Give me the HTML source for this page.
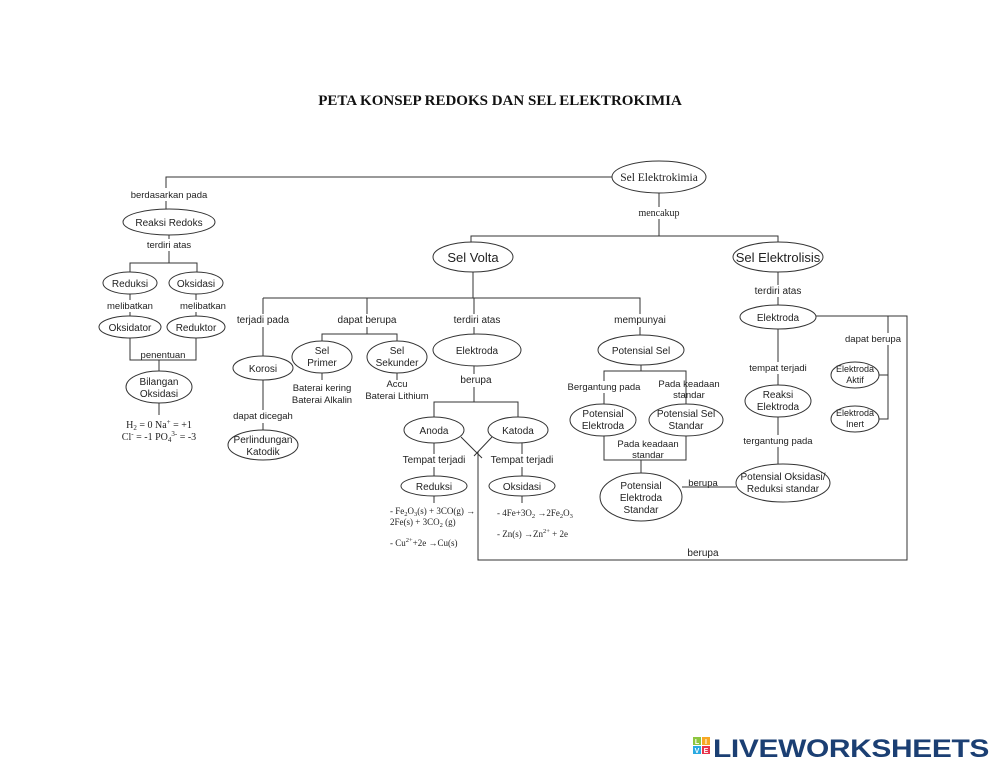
<!DOCTYPE html>
<html><head><meta charset="utf-8"><style>
html,body{margin:0;padding:0;background:#fff;}
svg{display:block;}
text{font-family:"Liberation Sans",sans-serif;font-size:10px;fill:#222;text-anchor:middle;}
.s{font-family:"Liberation Serif",serif;}
ellipse{fill:#fff;stroke:#333;stroke-width:1;}
.l{stroke:#333;stroke-width:1;fill:none;}
</style></head><body>
<svg width="1000" height="773" viewBox="0 0 1000 773" xmlns="http://www.w3.org/2000/svg">
<text x="500" y="105" class="s" style="font-size:15px;font-weight:bold;fill:#111">PETA KONSEP REDOKS DAN SEL ELEKTROKIMIA</text>

<g class="l">
<path class="l" d="M612 177 H166 V214"/>
<path class="l" d="M169 235 V263 M130 272 V263 H197 V272"/>
<path class="l" d="M130 294 V316 M196 294 V316"/>
<path class="l" d="M130 338 V360 H196 V338 M159 360 V371"/>
<path class="l" d="M159 403 V415"/>
<path class="l" d="M659 193 V236 M471 242 V236 H778 V242"/>
<path class="l" d="M473 272 V298 M263 298 H640 V335 M263 298 V356 M263 380 V430 M367 298 V334 H322 V341 M367 334 H397 V341 M474 298 V334"/>
<path class="l" d="M322 373 V380 M397 373 V380"/>
<path class="l" d="M474 366 V402 H434 V417 M474 402 H518 V417"/>
<path class="l" d="M434 443 V476 M522 443 V476 M434 496 V503 M522 496 V503"/>
<path class="l" d="M461 437 L482 458 M492 437 L474 456 M478 452 V560 H907 V316 H816"/>
<path class="l" d="M641 365 V371 H604 V404 M641 371 H686 V404"/>
<path class="l" d="M604 436 V460 H686 V436 M641 460 V473"/>
<path class="l" d="M682 487 H736"/>
<path class="l" d="M778 272 V305 M778 329 V385 M778 417 V464"/>
<path class="l" d="M888 316 V419 H879 M888 375 H879"/>
</g>

<ellipse cx="659" cy="177" rx="47" ry="16"/><text x="659" y="181" class="s" style="font-size:11.5px">Sel Elektrokimia</text>
<ellipse cx="169" cy="222" rx="46" ry="13"/><text x="169" y="226">Reaksi Redoks</text>
<ellipse cx="130" cy="283" rx="27" ry="11"/><text x="130" y="287">Reduksi</text>
<ellipse cx="196" cy="283" rx="27" ry="11"/><text x="196" y="287">Oksidasi</text>
<ellipse cx="130" cy="327" rx="31" ry="11"/><text x="130" y="331">Oksidator</text>
<ellipse cx="196" cy="327" rx="29" ry="11"/><text x="196" y="331">Reduktor</text>
<ellipse cx="159" cy="387" rx="33" ry="16"/><text x="159" y="385">Bilangan</text><text x="159" y="397">Oksidasi</text>

<ellipse cx="473" cy="257" rx="40" ry="15"/><text x="473" y="262" style="font-size:13px">Sel Volta</text>
<ellipse cx="778" cy="257" rx="45" ry="15"/><text x="778" y="262" style="font-size:13px">Sel Elektrolisis</text>

<ellipse cx="263" cy="368" rx="30" ry="12"/><text x="263" y="372">Korosi</text>
<ellipse cx="263" cy="445" rx="35" ry="15"/><text x="263" y="443">Perlindungan</text><text x="263" y="455">Katodik</text>
<ellipse cx="322" cy="357" rx="30" ry="16"/><text x="322" y="354">Sel</text><text x="322" y="366">Primer</text>
<ellipse cx="397" cy="357" rx="30" ry="16"/><text x="397" y="354">Sel</text><text x="397" y="366">Sekunder</text>
<ellipse cx="477" cy="350" rx="44" ry="16"/><text x="477" y="354">Elektroda</text>
<ellipse cx="434" cy="430" rx="30" ry="13"/><text x="434" y="434">Anoda</text>
<ellipse cx="518" cy="430" rx="30" ry="13"/><text x="518" y="434">Katoda</text>
<ellipse cx="434" cy="486" rx="33" ry="10"/><text x="434" y="490">Reduksi</text>
<ellipse cx="522" cy="486" rx="33" ry="10"/><text x="522" y="490">Oksidasi</text>
<ellipse cx="641" cy="350" rx="43" ry="15"/><text x="641" y="354">Potensial Sel</text>
<ellipse cx="603" cy="420" rx="33" ry="16"/><text x="603" y="417">Potensial</text><text x="603" y="429">Elektroda</text>
<ellipse cx="686" cy="420" rx="37" ry="16"/><text x="686" y="417">Potensial Sel</text><text x="686" y="429">Standar</text>
<ellipse cx="641" cy="497" rx="41" ry="24"/><text x="641" y="489">Potensial</text><text x="641" y="501">Elektroda</text><text x="641" y="513">Standar</text>
<ellipse cx="783" cy="483" rx="47" ry="19"/><text x="783" y="480">Potensial Oksidasi/</text><text x="783" y="492">Reduksi standar</text>
<ellipse cx="778" cy="317" rx="38" ry="12"/><text x="778" y="321">Elektroda</text>
<ellipse cx="778" cy="401" rx="33" ry="16"/><text x="778" y="398">Reaksi</text><text x="778" y="410">Elektroda</text>
<ellipse cx="855" cy="375" rx="24" ry="13"/><text x="855" y="372" style="font-size:9px">Elektroda</text><text x="855" y="383" style="font-size:9px">Aktif</text>
<ellipse cx="855" cy="419" rx="24" ry="13"/><text x="855" y="416" style="font-size:9px">Elektroda</text><text x="855" y="427" style="font-size:9px">Inert</text>

<g>
<rect x="136" y="188" width="66" height="13" fill="#fff"/><text x="169" y="198" style="font-size:9.5px">berdasarkan pada</text>
<rect x="143" y="239" width="52" height="12" fill="#fff"/><text x="169" y="248" style="font-size:9.5px">terdiri atas</text>
<rect x="108" y="300" width="46" height="12" fill="#fff"/><text x="130" y="309" style="font-size:9.5px">melibatkan</text>
<rect x="180" y="300" width="46" height="12" fill="#fff"/><text x="203" y="309" style="font-size:9.5px">melibatkan</text>
<text x="163" y="358" style="font-size:9.5px">penentuan</text>
<text x="159" y="428" class="s" style="font-size:10px">H<tspan font-size="7" dy="2">2</tspan><tspan dy="-2"> = 0   Na</tspan><tspan font-size="7" dy="-4">+</tspan><tspan dy="4"> = +1</tspan></text>
<text x="159" y="440" class="s" style="font-size:10px">Cl<tspan font-size="7" dy="-4">-</tspan><tspan dy="4"> = -1   PO</tspan><tspan font-size="7" dy="2">4</tspan><tspan font-size="7" dy="-6">3-</tspan><tspan dy="4"> = -3</tspan></text>

<rect x="634" y="207" width="50" height="12" fill="#fff"/><text x="659" y="216" class="s" style="font-size:10px">mencakup</text>
<rect x="236" y="314" width="54" height="13" fill="#fff"/><text x="263" y="323">terjadi pada</text>
<rect x="334" y="314" width="66" height="13" fill="#fff"/><text x="367" y="323">dapat berupa</text>
<rect x="450" y="314" width="50" height="13" fill="#fff"/><text x="477" y="323">terdiri atas</text>
<rect x="612" y="314" width="56" height="13" fill="#fff"/><text x="640" y="323">mempunyai</text>
<rect x="232" y="410" width="62" height="13" fill="#fff"/><text x="263" y="419" style="font-size:9.5px">dapat dicegah</text>
<text x="322" y="391" style="font-size:9.5px">Baterai kering</text><text x="322" y="403" style="font-size:9.5px">Baterai Alkalin</text>
<text x="397" y="387" style="font-size:9.5px">Accu</text><text x="397" y="399" style="font-size:9.5px">Baterai Lithium</text>
<rect x="458" y="374" width="36" height="13" fill="#fff"/><text x="476" y="383">berupa</text>
<rect x="398" y="454" width="72" height="13" fill="#fff"/><text x="434" y="463">Tempat terjadi</text>
<rect x="487" y="454" width="72" height="13" fill="#fff"/><text x="522" y="463">Tempat terjadi</text>
<text x="390" y="514" class="s" style="font-size:9px;text-anchor:start">- Fe<tspan font-size="6.5" dy="2">2</tspan><tspan dy="-2">O</tspan><tspan font-size="6.5" dy="2">3</tspan><tspan dy="-2">(s) + 3CO(g) →</tspan></text>
<text x="390" y="525" class="s" style="font-size:9px;text-anchor:start">2Fe(s) + 3CO<tspan font-size="6.5" dy="2">2</tspan><tspan dy="-2"> (g)</tspan></text>
<text x="390" y="546" class="s" style="font-size:9px;text-anchor:start">- Cu<tspan font-size="6.5" dy="-4">2+</tspan><tspan dy="4">+2e →Cu(s)</tspan></text>
<text x="497" y="516" class="s" style="font-size:9px;text-anchor:start">- 4Fe+3O<tspan font-size="6.5" dy="2">2</tspan><tspan dy="-2"> →2Fe</tspan><tspan font-size="6.5" dy="2">2</tspan><tspan dy="-2">O</tspan><tspan font-size="6.5" dy="2">3</tspan></text>
<text x="497" y="537" class="s" style="font-size:9px;text-anchor:start">- Zn(s) →Zn<tspan font-size="6.5" dy="-4">2+</tspan><tspan dy="4"> + 2e</tspan></text>

<rect x="566" y="381" width="78" height="12" fill="#fff"/><text x="604" y="390" style="font-size:9.5px">Bergantung pada</text>
<text x="689" y="387" style="font-size:9.5px">Pada keadaan</text><text x="689" y="398" style="font-size:9.5px">standar</text>
<text x="648" y="447" style="font-size:9.5px">Pada keadaan</text><text x="648" y="458" style="font-size:9.5px">standar</text>
<text x="703" y="486" style="font-size:9.5px">berupa</text>
<rect x="750" y="285" width="56" height="12" fill="#fff"/><text x="778" y="294">terdiri atas</text>
<rect x="746" y="362" width="64" height="12" fill="#fff"/><text x="778" y="371" style="font-size:9.5px">tempat terjadi</text>
<rect x="744" y="435" width="68" height="12" fill="#fff"/><text x="778" y="444" style="font-size:9.5px">tergantung pada</text>
<rect x="845" y="333" width="58" height="12" fill="#fff"/><text x="873" y="342" style="font-size:9.5px">dapat berupa</text>
<text x="703" y="556">berupa</text>
</g>

<g>
<rect x="693" y="737" width="8" height="8" fill="#8dc63f"/><rect x="702" y="737" width="8" height="8" fill="#f7a823"/>
<rect x="693" y="746" width="8" height="8" fill="#29a9e1"/><rect x="702" y="746" width="8" height="8" fill="#e8334a"/>
<text x="697" y="744" style="font-size:7px;fill:#fff;font-weight:bold">L</text><text x="706" y="744" style="font-size:7px;fill:#fff;font-weight:bold">I</text>
<text x="697" y="753" style="font-size:7px;fill:#fff;font-weight:bold">V</text><text x="706" y="753" style="font-size:7px;fill:#fff;font-weight:bold">E</text>
<text x="851" y="757" style="font-size:25px;font-weight:bold;fill:#1b3f73;letter-spacing:-0.3px" textLength="276" lengthAdjust="spacingAndGlyphs">LIVEWORKSHEETS</text>
</g>
</svg>
</body></html>
